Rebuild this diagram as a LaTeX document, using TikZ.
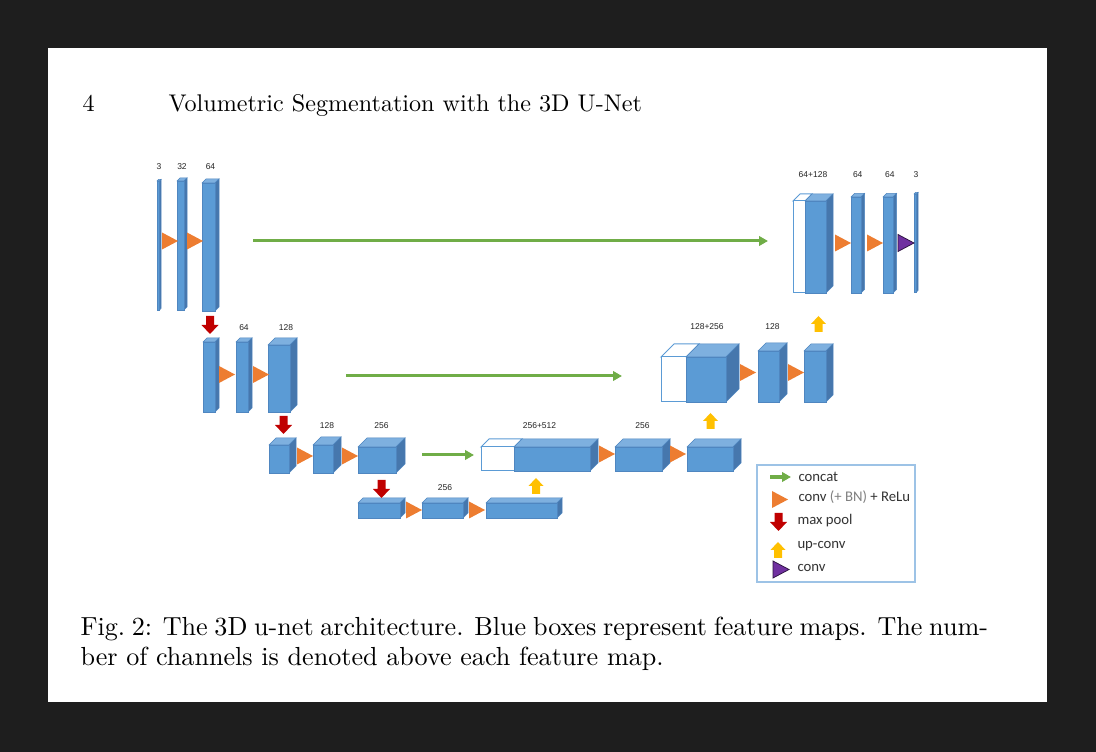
\documentclass[tikz,border=0pt]{standalone}
\usepackage{fontspec}
\usepackage{tikz}
\usetikzlibrary{arrows.meta,fit,calc}
\newfontfamily\netfont{Liberation Sans}
\newfontfamily\keyfont{Carlito}
\definecolor{pageback}{HTML}{1E1E1E}
\definecolor{mapfront}{HTML}{5B9BD5}
\definecolor{maptop}{HTML}{7EB0DF}
\definecolor{mapside}{HTML}{4677AD}
\definecolor{mapedge}{HTML}{4F86C0}
\definecolor{convorange}{HTML}{ED7D31}
\definecolor{catgreen}{HTML}{70AD47}
\definecolor{poolred}{HTML}{C00000}
\definecolor{upyellow}{HTML}{FFC000}
\definecolor{outpurple}{HTML}{7030A0}
\definecolor{keyedge}{HTML}{9DC3E6}
\tikzset{
  catarrow/.style={-{Triangle[length=3.6pt,width=3.8pt]},draw=catgreen,line width=1.2pt},
  lbl/.style={font=\netfont\fontsize{3.4}{4}\selectfont,text=black!85,inner sep=0pt},
  keytxt/.style={font=\keyfont\fontsize{5.9}{7}\selectfont,text=black!80,anchor=west,inner sep=0pt},
  convtri/.pic={\fill[convorange] (0,-8.5) -- (16,0) -- (0,8.5) -- cycle;},
  convout/.pic={\filldraw[fill=outpurple,draw=black!60!outpurple,line width=0.3pt]
    (0,-8.5) -- (16,0) -- (0,8.5) -- cycle;},
  maxpool/.pic={\fill[poolred] (-4,0) -- (4,0) -- (4,9) -- (8.5,9) -- (0,18) -- (-8.5,9)
    -- (-4,9) -- cycle;},
  upconv/.pic={\fill[upyellow] (0,0) -- (7.5,8) -- (4,8) -- (4,16) -- (-4,16) -- (-4,8)
    -- (-7.5,8) -- cycle;},
}
% feature map: name, x0, y0, x1, y1 (front face), depth
\newcommand{\fmap}[6]{%
  \filldraw[fill=maptop,draw=mapedge,line width=0.2pt]
    (#2,#3) -- (#2+#6,#3-#6) -- (#4+#6,#3-#6) -- (#4,#3) -- cycle;
  \filldraw[fill=mapside,draw=mapedge,line width=0.2pt]
    (#4,#3) -- (#4+#6,#3-#6) -- (#4+#6,#5-#6) -- (#4,#5) -- cycle;
  \filldraw[fill=mapfront,draw=mapedge,line width=0.2pt] (#2,#3) rectangle (#4,#5);
  \node[fit={(#2,#3-#6)(#4+#6,#5)},inner sep=0pt] (#1) {};}
% concatenated map: name, x white, x0, y0, x1, y1, depth
\newcommand{\catmap}[7]{%
  \filldraw[fill=white,draw=mapfront,line width=0.4pt]
    (#2,#4) -- (#2+#7,#4-#7) -- (#3+#7,#4-#7) -- (#3,#4) -- cycle;
  \filldraw[fill=white,draw=mapfront,line width=0.4pt] (#2,#4) rectangle (#3,#6);
  \fmap{#1b}{#3}{#4}{#5}{#6}{#7}
  \node[fit={(#2,#4-#7)(#5+#7,#6)},inner sep=0pt] (#1) {};}

\begin{document}
\begin{tikzpicture}[x=0.4pt,y=-0.4pt]
  \useasboundingbox (0,0) rectangle (1096,752);
  \fill[pageback] (0,0) rectangle (1096,752);
  \fill[white] (48,48) rectangle (1047,702);

  % running head
  \node[anchor=base west,inner sep=0pt,font=\fontsize{9.65}{11}\selectfont] (pageno)
    at (82,112) {4};
  \node[anchor=base west,inner sep=0pt,font=\fontsize{9.65}{11}\selectfont] (runhead)
    at (168,112) {Volumetric Segmentation with the 3D U-Net};

  % label rows
  \coordinate (lr1) at (0,167);
  \coordinate (lr2) at (0,328);
  \coordinate (lr3) at (0,426);
  \coordinate (lr4) at (0,488);
  \coordinate (lr5) at (0,327);
  \coordinate (lr6) at (0,175);

  % analysis path
  \fmap{A1}{157}{181}{159.5}{310}{1.5}
  \fmap{A2}{177}{181}{184}{310}{3}
  \fmap{A3}{202}{183}{215}{311}{4}
  \fmap{B1}{203}{342}{215}{412}{4}
  \fmap{B2}{236}{342}{248}{412}{4}
  \fmap{B3}{268}{345}{290}{412}{7}
  \fmap{C1}{269}{445}{289}{473}{7}
  \fmap{C2}{313}{445}{333}{473}{8}
  \fmap{C3}{358}{447}{396}{473}{9}
  \fmap{D1}{358}{503}{400}{518}{5}
  \fmap{D2}{422}{503}{463}{518}{5}
  \fmap{D3}{486}{503}{557}{518}{5}

  % synthesis path
  \catmap{C4}{481}{514}{447}{590}{471}{8}
  \fmap{C5}{615}{447}{662}{471}{8}
  \fmap{C6}{687}{447}{733}{471}{8}
  \catmap{E1}{661}{686}{357}{726}{402}{13}
  \fmap{E2}{758}{351}{779}{402}{8}
  \fmap{E3}{804}{351}{826}{402}{7}
  \catmap{F1}{793}{805}{201}{826}{293}{7}
  \fmap{F2}{851}{197}{861}{293}{3.5}
  \fmap{F3}{883}{197}{893}{293}{3.5}
  \fmap{F4}{914}{194}{916.5}{292}{1.5}

  % channel numbers
  \node[lbl] (nA1) at (A1 |- lr1) {3};
  \node[lbl] (nA2) at (A2 |- lr1) {32};
  \node[lbl] (nA3) at (A3 |- lr1) {64};
  \node[lbl] (nB2) at (B2 |- lr2) {64};
  \node[lbl,xshift=1.4pt] (nB3) at (B3 |- lr2) {128};
  \node[lbl] (nC2) at (C2 |- lr3) {128};
  \node[lbl] (nC3) at (C3 |- lr3) {256};
  \node[lbl] (nC4) at (C4 |- lr3) {256+512};
  \node[lbl] (nC5) at (C5 |- lr3) {256};
  \node[lbl] (nD2) at (D2 |- lr4) {256};
  \node[lbl,xshift=2.8pt] (nE1) at (E1 |- lr5) {128+256};
  \node[lbl] (nE2) at (E2 |- lr5) {128};
  \node[lbl] (nF1) at (F1 |- lr6) {64+128};
  \node[lbl] (nF2) at (F2 |- lr6) {64};
  \node[lbl] (nF3) at (F3 |- lr6) {64};
  \node[lbl] (nF4) at (F4 |- lr6) {3};

  % convolutions
  \pic at (162,241) {convtri};
  \pic at (187,241) {convtri};
  \pic at (219,374.5) {convtri};
  \pic at (253,374.5) {convtri};
  \pic at (297,456) {convtri};
  \pic at (342,456) {convtri};
  \pic at (406,510) {convtri};
  \pic at (469,510) {convtri};
  \pic at (599,454) {convtri};
  \pic at (670,454) {convtri};
  \pic at (740,372.5) {convtri};
  \pic at (788,372.5) {convtri};
  \pic at (835,243) {convtri};
  \pic at (867,243) {convtri};
  \pic at (898,243) {convout};

  % max pool and up-conv
  \pic at (210,316) {maxpool};
  \pic at (283.5,416) {maxpool};
  \pic at (381.5,480) {maxpool};
  \pic at (536,478) {upconv};
  \pic at (710.5,413) {upconv};
  \pic at (818.5,316) {upconv};

  % skip connections
  \coordinate (s1a) at (253,241); \coordinate (s1b) at (768,241);
  \coordinate (s2a) at (346,376); \coordinate (s2b) at (622,376);
  \coordinate (s3a) at (422,455); \coordinate (s3b) at (474,455);
  \draw[catarrow] (s1a) -- (s1b);
  \draw[catarrow] (s2a) -- (s2b);
  \draw[catarrow] (s3a) -- (s3b);

  % legend
  \draw[keyedge,line width=0.5pt] (757,465) rectangle (915,582);
  \coordinate (k1a) at (770,477); \coordinate (k1b) at (791,477);
  \draw[catarrow,line width=1.6pt] (k1a) -- (k1b);
  \node[keytxt] (kcat) at (798,477) {concat};
  \pic at (772,499.5) {convtri};
  \node[keytxt] (kconv) at (798,497) {conv {\color{black!50}(+ BN)} + ReLu};
  \pic at (778.5,513) {maxpool};
  \node[keytxt] (kpool) at (797,521) {max pool};
  \pic at (778,542) {upconv};
  \node[keytxt] (kup) at (797,546) {up-conv};
  \pic at (773,569.5) {convout};
  \node[keytxt] (kout) at (797,568) {conv};

  % caption
  \node[anchor=base west,inner sep=0pt,font=\fontsize{10.45}{12.5}\selectfont] (cap1)
    at (80,636) {\makebox[363pt][s]{Fig.~2: The 3D u-net architecture. Blue boxes
    represent feature maps. The num-}};
  \node[anchor=base west,inner sep=0pt,font=\fontsize{10.45}{12.5}\selectfont] (cap2)
    at (80,666) {ber of channels is denoted above each feature map.};
\end{tikzpicture}
\end{document}
